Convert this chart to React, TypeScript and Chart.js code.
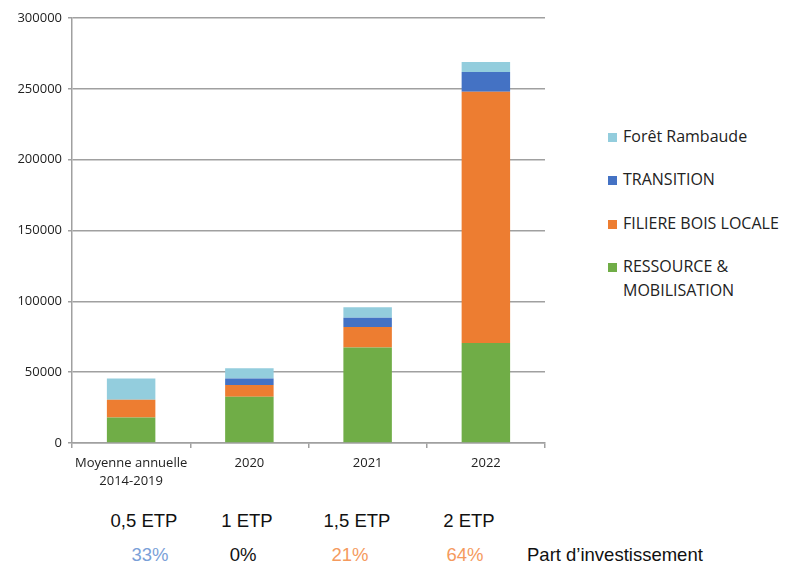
import React, { useEffect, useRef } from "react";
import { Chart, registerables } from "chart.js";

Chart.register(...registerables);

const categories: (string | string[])[] = [["Moyenne annuelle", "2014-2019"], "2020", "2021", "2022"];
const ressource = [18000, 32700, 67500, 70600];
const filiere = [12500, 8300, 14400, 177400];
const transition = [0, 4500, 6600, 13900];
const foret = [15000, 7300, 7300, 7100];

const seriesNames = ["RESSOURCE & MOBILISATION", "FILIERE BOIS LOCALE", "TRANSITION", "Forêt Rambaude"];
const legendLines = [["Forêt Rambaude"], ["TRANSITION"], ["FILIERE BOIS LOCALE"], ["RESSOURCE &", "MOBILISATION"]];
const seriesColors = ["#70AD47", "#ED7D31", "#4472C4", "#93CDDD"];

const etpLabels = ["0,5 ETP", "1 ETP", "1,5 ETP", "2 ETP"];
const shareLabels = ["33%", "0%", "21%", "64%"];
const shareColors = ["#7a9fd8", "#111111", "#f59a5e", "#f59a5e"];
const shareCaption = "Part d\u2019investissement";

const etpCenters = [144, 247, 357, 469];
const shareCenters = [150, 243, 350, 465];

export default function App() {
  const ref = useRef<HTMLCanvasElement | null>(null);
  useEffect(() => {
    if (!ref.current) return;
    const values = [ressource, filiere, transition, foret];
    const chart = new Chart(ref.current, {
      type: "bar",
      data: {
        labels: categories as any,
        datasets: values.map((v, i) => ({
          label: seriesNames[i],
          data: v,
          backgroundColor: seriesColors[i],
          borderWidth: 0,
          barPercentage: 0.41,
          categoryPercentage: 1,
        })),
      },
      options: {
        animation: false,
        responsive: false,
        maintainAspectRatio: false,
        layout: { padding: { top: 18, right: 15, left: 0, bottom: 0 } },
        plugins: { legend: { display: false }, tooltip: { enabled: false } },
        scales: {
          x: {
            stacked: true,
            afterFit: (s: any) => { s.height = 57; },
            grid: { display: true, drawOnChartArea: false, drawTicks: true, tickLength: 5, color: "#a0a0a0", lineWidth: 1.5 },
            border: { display: true, color: "#a0a0a0", width: 1.5 },
            ticks: { color: "#222", font: { family: "Open Sans", size: 13, lineHeight: 1.35 }, padding: 7, maxRotation: 0, autoSkip: false },
          },
          y: {
            stacked: true,
            min: 0,
            max: 300000,
            afterFit: (s: any) => { s.width = 72; },
            grid: { color: "#a0a0a0", lineWidth: 1.5, tickLength: 4, drawTicks: true },
            border: { display: true, color: "#a0a0a0", width: 1.5 },
            ticks: { stepSize: 50000, color: "#222", font: { family: "Open Sans", size: 13 }, padding: 6, callback: (v: any) => String(v) },
          },
        },
      },
    });
    return () => chart.destroy();
  }, []);

  const legendTops = [124, 167, 211, 254];
  return (
    <div style={{ position: "absolute", left: 0, top: 0, width: 790, height: 565, background: "#fff", overflow: "hidden" }}>
      <canvas ref={ref} width={560} height={500} style={{ position: "absolute", left: 0, top: 0, width: 560, height: 500 }} />
      {legendLines.map((lines, i) => (
        <div key={i} style={{ position: "absolute", left: 608, top: legendTops[i], fontFamily: "Open Sans", fontSize: 16, lineHeight: "24px", color: "#222", whiteSpace: "nowrap" }}>
          <span style={{ position: "absolute", left: 0, top: 9, width: 9, height: 9, background: seriesColors[3 - i] }} />
          <div style={{ marginLeft: 15 }}>
            {lines.map((l, j) => <div key={j}>{l}</div>)}
          </div>
        </div>
      ))}
      {etpLabels.map((t, i) => (
        <div key={"e" + i} style={{ position: "absolute", left: etpCenters[i], top: 511, transform: "translateX(-50%)", fontFamily: "Liberation Sans", fontSize: 18.5, lineHeight: "19px", color: "#111", whiteSpace: "nowrap" }}>{t}</div>
      ))}
      {shareLabels.map((t, i) => (
        <div key={"s" + i} style={{ position: "absolute", left: shareCenters[i], top: 545, transform: "translateX(-50%)", fontFamily: "Liberation Sans", fontSize: 18.5, lineHeight: "19px", color: shareColors[i], whiteSpace: "nowrap" }}>{t}</div>
      ))}
      <div style={{ position: "absolute", left: 527, top: 545, fontFamily: "Liberation Sans", fontSize: 18.5, lineHeight: "19px", color: "#111", whiteSpace: "nowrap" }}>{shareCaption}</div>
    </div>
  );
}
